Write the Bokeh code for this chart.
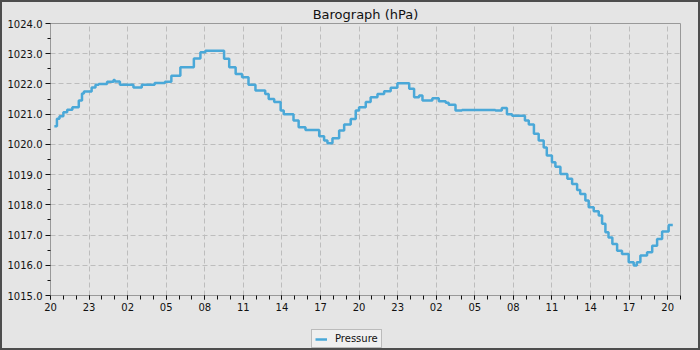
from bokeh.plotting import figure
from bokeh.models import (Range1d, FixedTicker, PrintfTickFormatter, Legend, LegendItem,
                          ColumnDataSource, Title)
from bokeh.layouts import column
from bokeh.embed import file_html
from bokeh.resources import INLINE

# hours after the first 20:00
hours = [0.3, 0.5, 0.7, 1.0, 1.3, 1.7, 2.2, 2.45, 2.6, 3.2, 3.5, 3.75, 4.4, 4.9, 5.0, 5.4,
         6.45, 7.1, 8.1, 8.9, 9.4, 10.1, 11.15, 11.66, 12.05, 13.5, 13.9, 14.4, 14.9, 15.4,
         15.94, 16.7, 16.97, 17.4, 17.9, 18.14, 18.9, 19.3, 19.83, 20.9, 21.28, 21.54, 21.93,
         22.45, 22.84, 23.35, 23.74, 24.0, 24.52, 24.9, 25.43, 25.95, 26.46, 26.98, 27.9,
         28.28, 28.67, 28.93, 29.7, 30.2, 30.74, 30.97, 31.5, 32.0, 34.6, 35.1, 35.5, 35.9,
         36.9, 37.2, 37.6, 37.97, 38.36, 38.6, 39.0, 39.27, 39.66, 40.2, 40.57, 40.96, 41.2,
         41.6, 41.86, 42.25, 42.64, 42.9, 43.16, 43.4, 43.7, 44.07, 44.45, 44.97, 45.36, 45.6,
         45.88, 46.4, 46.8, 47.18, 47.57, 48.08, 48.4]
pressure = [1020.6, 1020.85, 1020.93, 1021.06, 1021.15, 1021.23, 1021.45, 1021.68, 1021.75,
            1021.88, 1021.97, 1022.0, 1022.07, 1022.13, 1022.08, 1021.97, 1021.88, 1021.97,
            1022.03, 1022.07, 1022.27, 1022.55, 1022.84, 1023.05, 1023.1, 1022.83, 1022.55,
            1022.33, 1022.22, 1021.97, 1021.78, 1021.67, 1021.5, 1021.4, 1021.12, 1021.0,
            1020.79, 1020.57, 1020.48, 1020.27, 1020.13, 1020.04, 1020.2, 1020.46, 1020.66,
            1020.84, 1021.12, 1021.23, 1021.4, 1021.56, 1021.67, 1021.76, 1021.87, 1022.02,
            1021.84, 1021.56, 1021.62, 1021.45, 1021.53, 1021.43, 1021.38, 1021.31, 1021.12,
            1021.14, 1021.12, 1021.2, 1021.0, 1020.95, 1020.79, 1020.66, 1020.35, 1020.13,
            1019.9, 1019.63, 1019.41, 1019.26, 1019.02, 1018.86, 1018.69, 1018.49, 1018.36,
            1018.14, 1017.92, 1017.79, 1017.65, 1017.37, 1017.09, 1016.92, 1016.7, 1016.48,
            1016.37, 1016.1, 1015.99, 1016.1, 1016.32, 1016.43, 1016.65, 1016.87, 1017.12,
            1017.33, 1017.33]

tick_hours = [0, 3, 6, 9, 12, 15, 18, 21, 24, 27, 30, 33, 36, 39, 42, 45, 48]
tick_labels = ["20", "23", "02", "05", "08", "11", "14", "17", "20", "23", "02", "05",
               "08", "11", "14", "17", "20"]
y_ticks = [1015, 1016, 1017, 1018, 1019, 1020, 1021, 1022, 1023, 1024]
series_name = "Pressure"

FONT = "DejaVu Sans"
BG = "#e5e5e5"
LINE = "#4aa8d8"

p = figure(frame_width=630, frame_height=272, output_backend="svg", toolbar_location=None,
           x_range=Range1d(0, 49), y_range=Range1d(1015, 1024),
           background_fill_color=BG, border_fill_color=BG,
           min_border_left=48, min_border_right=18, min_border_top=0, min_border_bottom=30)
p.add_layout(Title(text="Barograph (hPa)", align="center", text_font=FONT,
                   text_font_size="13px", text_font_style="normal", text_color="#111111",
                   offset=0, standoff=4), "above")

src = ColumnDataSource(dict(h=hours, p=pressure))
r = p.step("h", "p", source=src, mode="after", line_color=LINE, line_width=2.5)

p.outline_line_color = "#999999"

xa = p.xaxis[0]
xa.ticker = FixedTicker(ticks=tick_hours, minor_ticks=list(range(0, 50)))
xa.major_label_overrides = {h: l for h, l in zip(tick_hours, tick_labels)}
ya = p.yaxis[0]
ya.ticker = FixedTicker(ticks=y_ticks, minor_ticks=[v + 0.5 for v in y_ticks[:-1]])
ya.formatter = PrintfTickFormatter(format="%.1f")
for ax in (xa, ya):
    ax.axis_line_color = "#999999"
    ax.major_tick_line_color = "#111111"
    ax.minor_tick_line_color = "#111111"
    ax.major_tick_in = 0
    ax.minor_tick_in = 0
    ax.major_label_text_font = FONT
    ax.major_label_text_font_size = "10px"
    ax.major_label_text_color = "#111111"
xa.major_tick_out = 4
xa.minor_tick_out = 4
ya.major_tick_out = 5
ya.minor_tick_out = 3
xa.major_label_standoff = 3
ya.major_label_standoff = 3

for g in (p.xgrid[0], p.ygrid[0]):
    g.grid_line_color = "#bdbdbd"
    g.grid_line_dash = "5 3"
    g.grid_line_width = 1

# legend strip below the chart (its frame lines up with the chart's frame)
p2 = figure(frame_width=630, height=23, output_backend="svg", toolbar_location=None,
            x_range=Range1d(0, 1), y_range=Range1d(0, 1),
            x_axis_type=None, y_axis_type=None,
            background_fill_color=BG, border_fill_color=BG,
            min_border_left=48, min_border_right=18, min_border_top=0, min_border_bottom=0)
p2.outline_line_color = None
legend_src = ColumnDataSource(dict(x=[-5, -4], y=[-5, -5]))
r2 = p2.line("x", "y", source=legend_src, line_color=LINE, line_width=2.5)
legend = Legend(items=[LegendItem(label=series_name, renderers=[r2])],
                location=(261, 0), orientation="horizontal",
                label_text_font=FONT, label_text_font_size="10px", label_text_color="#111111",
                background_fill_color="#efefef", background_fill_alpha=1.0,
                border_line_color="#888888", glyph_width=12, glyph_height=10,
                label_standoff=8, padding=3, margin=0, label_height=10)
p2.add_layout(legend, "center")

inner = column(p, p2, spacing=0, styles={"background-color": BG})
layout = column(inner, styles={"padding": "2px", "background-color": "#4d4d4d"})

open("out.html", "w").write(file_html(layout, INLINE))
